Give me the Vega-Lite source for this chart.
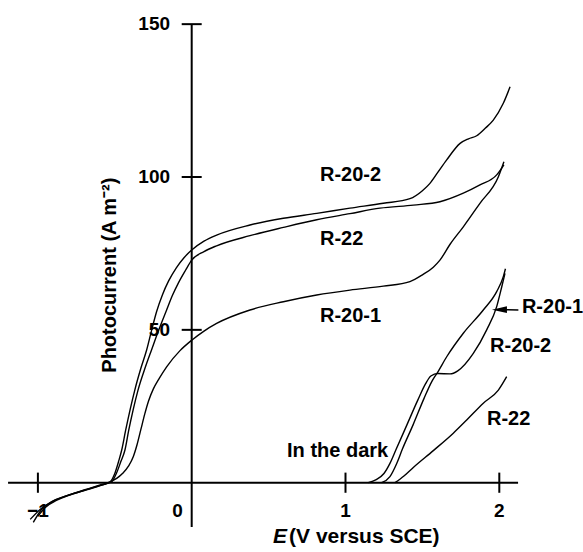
{
  "$schema": "https://vega.github.io/schema/vega-lite/v6.json",
  "width": 583,
  "height": 552,
  "padding": 0,
  "autosize": "none",
  "background": "white",
  "config": {"view": {"stroke": null}},
  "datasets": {
    "curves": [
      {"s":"R-20-2 light","x":-1.03,"y":-13},{"s":"R-20-2 light","x":-0.98,"y":-9},{"s":"R-20-2 light","x":-0.92,"y":-6.5},{"s":"R-20-2 light","x":-0.81,"y":-4.2},{"s":"R-20-2 light","x":-0.7,"y":-2.6},{"s":"R-20-2 light","x":-0.6,"y":-1.0},{"s":"R-20-2 light","x":-0.53,"y":0.3},{"s":"R-20-2 light","x":-0.5,"y":3},{"s":"R-20-2 light","x":-0.475,"y":7},{"s":"R-20-2 light","x":-0.455,"y":10.7},{"s":"R-20-2 light","x":-0.43,"y":17},{"s":"R-20-2 light","x":-0.4,"y":24},{"s":"R-20-2 light","x":-0.37,"y":30.3},{"s":"R-20-2 light","x":-0.33,"y":37.5},{"s":"R-20-2 light","x":-0.293,"y":43.4},{"s":"R-20-2 light","x":-0.26,"y":50},{"s":"R-20-2 light","x":-0.228,"y":56},{"s":"R-20-2 light","x":-0.19,"y":61.5},{"s":"R-20-2 light","x":-0.15,"y":66},{"s":"R-20-2 light","x":-0.1,"y":70.3},{"s":"R-20-2 light","x":-0.05,"y":73.6},{"s":"R-20-2 light","x":0.0,"y":76.1},{"s":"R-20-2 light","x":0.08,"y":79},{"s":"R-20-2 light","x":0.162,"y":81.0},{"s":"R-20-2 light","x":0.379,"y":84.3},{"s":"R-20-2 light","x":0.596,"y":86.5},{"s":"R-20-2 light","x":0.813,"y":88.1},{"s":"R-20-2 light","x":1.029,"y":89.8},{"s":"R-20-2 light","x":1.246,"y":91.4},{"s":"R-20-2 light","x":1.419,"y":92.9},{"s":"R-20-2 light","x":1.5,"y":95.5},{"s":"R-20-2 light","x":1.549,"y":97.9},{"s":"R-20-2 light","x":1.6,"y":101.5},{"s":"R-20-2 light","x":1.658,"y":105.6},{"s":"R-20-2 light","x":1.745,"y":111.0},{"s":"R-20-2 light","x":1.8,"y":112.5},{"s":"R-20-2 light","x":1.853,"y":113.5},{"s":"R-20-2 light","x":1.91,"y":116},{"s":"R-20-2 light","x":1.961,"y":118.6},{"s":"R-20-2 light","x":2.026,"y":124.1},{"s":"R-20-2 light","x":2.07,"y":129.5},
      {"s":"R-22 light","x":-1.0,"y":-11},{"s":"R-22 light","x":-0.95,"y":-8},{"s":"R-22 light","x":-0.88,"y":-5.8},{"s":"R-22 light","x":-0.78,"y":-3.8},{"s":"R-22 light","x":-0.68,"y":-2.2},{"s":"R-22 light","x":-0.58,"y":-0.7},{"s":"R-22 light","x":-0.52,"y":0.3},{"s":"R-22 light","x":-0.49,"y":3},{"s":"R-22 light","x":-0.46,"y":7},{"s":"R-22 light","x":-0.434,"y":10.7},{"s":"R-22 light","x":-0.41,"y":17},{"s":"R-22 light","x":-0.38,"y":24},{"s":"R-22 light","x":-0.349,"y":30.3},{"s":"R-22 light","x":-0.3,"y":38},{"s":"R-22 light","x":-0.26,"y":43.6},{"s":"R-22 light","x":-0.21,"y":50.5},{"s":"R-22 light","x":-0.163,"y":56.5},{"s":"R-22 light","x":-0.125,"y":61.3},{"s":"R-22 light","x":-0.087,"y":65.3},{"s":"R-22 light","x":-0.04,"y":69.5},{"s":"R-22 light","x":0.0,"y":72.8},{"s":"R-22 light","x":0.08,"y":75.6},{"s":"R-22 light","x":0.162,"y":77.5},{"s":"R-22 light","x":0.379,"y":80.8},{"s":"R-22 light","x":0.596,"y":83.5},{"s":"R-22 light","x":0.813,"y":86.0},{"s":"R-22 light","x":1.029,"y":88.0},{"s":"R-22 light","x":1.224,"y":89.8},{"s":"R-22 light","x":1.441,"y":90.8},{"s":"R-22 light","x":1.614,"y":91.9},{"s":"R-22 light","x":1.766,"y":94.7},{"s":"R-22 light","x":1.874,"y":97.4},{"s":"R-22 light","x":1.983,"y":100.7},{"s":"R-22 light","x":2.03,"y":104},
      {"s":"R-20-1 light","x":-1.05,"y":-12},{"s":"R-20-1 light","x":-0.98,"y":-8.5},{"s":"R-20-1 light","x":-0.9,"y":-6},{"s":"R-20-1 light","x":-0.8,"y":-4},{"s":"R-20-1 light","x":-0.7,"y":-2.4},{"s":"R-20-1 light","x":-0.6,"y":-0.8},{"s":"R-20-1 light","x":-0.53,"y":0.3},{"s":"R-20-1 light","x":-0.488,"y":1.4},{"s":"R-20-1 light","x":-0.45,"y":3},{"s":"R-20-1 light","x":-0.41,"y":5.5},{"s":"R-20-1 light","x":-0.38,"y":8.5},{"s":"R-20-1 light","x":-0.355,"y":12.5},{"s":"R-20-1 light","x":-0.33,"y":17.5},{"s":"R-20-1 light","x":-0.305,"y":22.5},{"s":"R-20-1 light","x":-0.28,"y":26.8},{"s":"R-20-1 light","x":-0.25,"y":30.6},{"s":"R-20-1 light","x":-0.21,"y":34.2},{"s":"R-20-1 light","x":-0.163,"y":37.9},{"s":"R-20-1 light","x":-0.076,"y":43.2},{"s":"R-20-1 light","x":0.0,"y":46.6},{"s":"R-20-1 light","x":0.08,"y":49.6},{"s":"R-20-1 light","x":0.162,"y":52.1},{"s":"R-20-1 light","x":0.379,"y":56.5},{"s":"R-20-1 light","x":0.596,"y":59.2},{"s":"R-20-1 light","x":0.813,"y":61.4},{"s":"R-20-1 light","x":1.029,"y":63.0},{"s":"R-20-1 light","x":1.246,"y":64.3},{"s":"R-20-1 light","x":1.419,"y":65.8},{"s":"R-20-1 light","x":1.5,"y":68},{"s":"R-20-1 light","x":1.571,"y":70.5},{"s":"R-20-1 light","x":1.614,"y":72.8},{"s":"R-20-1 light","x":1.68,"y":78},{"s":"R-20-1 light","x":1.766,"y":83.7},{"s":"R-20-1 light","x":1.874,"y":91.4},{"s":"R-20-1 light","x":1.994,"y":100.1},{"s":"R-20-1 light","x":2.03,"y":105},
      {"s":"R-20-2 dark","x":1.148,"y":0},{"s":"R-20-2 dark","x":1.2,"y":1},{"s":"R-20-2 dark","x":1.25,"y":3},{"s":"R-20-2 dark","x":1.289,"y":6.3},{"s":"R-20-2 dark","x":1.33,"y":11},{"s":"R-20-2 dark","x":1.4,"y":19},{"s":"R-20-2 dark","x":1.47,"y":27},{"s":"R-20-2 dark","x":1.52,"y":32.3},{"s":"R-20-2 dark","x":1.555,"y":34.9},{"s":"R-20-2 dark","x":1.6,"y":35.7},{"s":"R-20-2 dark","x":1.68,"y":35.6},{"s":"R-20-2 dark","x":1.73,"y":36.6},{"s":"R-20-2 dark","x":1.831,"y":42.3},{"s":"R-20-2 dark","x":1.918,"y":50},{"s":"R-20-2 dark","x":1.983,"y":57.6},{"s":"R-20-2 dark","x":2.016,"y":64.1},{"s":"R-20-2 dark","x":2.037,"y":68.5},
      {"s":"R-20-1 dark","x":1.235,"y":0},{"s":"R-20-1 dark","x":1.289,"y":2},{"s":"R-20-1 dark","x":1.333,"y":6.3},{"s":"R-20-1 dark","x":1.37,"y":11},{"s":"R-20-1 dark","x":1.44,"y":19},{"s":"R-20-1 dark","x":1.51,"y":27.5},{"s":"R-20-1 dark","x":1.56,"y":33},{"s":"R-20-1 dark","x":1.6,"y":36.2},{"s":"R-20-1 dark","x":1.658,"y":41.2},{"s":"R-20-1 dark","x":1.766,"y":48.9},{"s":"R-20-1 dark","x":1.896,"y":56.5},{"s":"R-20-1 dark","x":1.983,"y":62.5},{"s":"R-20-1 dark","x":2.026,"y":67.4},{"s":"R-20-1 dark","x":2.04,"y":70},
      {"s":"R-22 dark","x":1.322,"y":0},{"s":"R-22 dark","x":1.38,"y":2.2},{"s":"R-22 dark","x":1.441,"y":5.0},{"s":"R-22 dark","x":1.571,"y":10.5},{"s":"R-22 dark","x":1.701,"y":16.2},{"s":"R-22 dark","x":1.788,"y":20.5},{"s":"R-22 dark","x":1.896,"y":26.0},{"s":"R-22 dark","x":1.994,"y":30.3},{"s":"R-22 dark","x":2.048,"y":34.7}
    ],
    "axes": [
      {"x1":-1.194,"y1":0,"x2":2.122,"y2":0},
      {"x1":0,"y1":-14.5,"x2":0,"y2":150}
    ],
    "xticks": [{"v":-1},{"v":1},{"v":2}],
    "yticks": [{"v":50},{"v":100},{"v":150}],
    "ylabels": [{"t":"150","v":150},{"t":"100","v":100},{"t":"50","v":50}],
    "xlabels": [{"t":"\u22121","v":-1},{"t":"1","v":1},{"t":"2","v":2}],
    "zerolabel": [{"t":"0","x":-0.057,"y":-9.4}],
    "notes": [
      {"t":"R-20-2","x":0.834,"y":100.7},
      {"t":"R-22","x":0.834,"y":79.7},
      {"t":"R-20-1","x":0.834,"y":54.5},
      {"t":"R-20-1","x":2.147,"y":57.5},
      {"t":"R-20-2","x":1.94,"y":44.7},
      {"t":"R-22","x":1.92,"y":20.8},
      {"t":"In the dark","x":0.62,"y":10.4}
    ],
    "arrow": [{"x1":2.124,"y1":56.5,"x2":2.03,"y2":56.6}],
    "arrowhead": [{"x":2.001,"y":56.6}]
  },
  "layer": [
    {
      "data": {"name": "axes"},
      "mark": {"type": "rule", "color": "black", "strokeWidth": 2},
      "encoding": {
        "x": {"field": "x1", "type": "quantitative", "scale": {"domain": [-1.2464, 2.5442], "nice": false, "zero": false}, "axis": null},
        "y": {"field": "y1", "type": "quantitative", "scale": {"domain": [-22.67, 157.9], "nice": false, "zero": false}, "axis": null},
        "x2": {"field": "x2"},
        "y2": {"field": "y2"}
      }
    },
    {
      "data": {"name": "xticks"},
      "mark": {"type": "rule", "color": "black", "strokeWidth": 2},
      "encoding": {
        "x": {"field": "v", "type": "quantitative"},
        "y": {"datum": -3.3, "type": "quantitative"},
        "y2": {"datum": 3.3}
      }
    },
    {
      "data": {"name": "yticks"},
      "mark": {"type": "rule", "color": "black", "strokeWidth": 2},
      "encoding": {
        "y": {"field": "v", "type": "quantitative"},
        "x": {"datum": -0.065, "type": "quantitative"},
        "x2": {"datum": 0.065}
      }
    },
    {
      "data": {"name": "curves"},
      "mark": {"type": "line", "color": "black", "strokeWidth": 1.4, "interpolate": "monotone"},
      "encoding": {
        "x": {"field": "x", "type": "quantitative"},
        "y": {"field": "y", "type": "quantitative"},
        "detail": {"field": "s", "type": "nominal"}
      }
    },
    {
      "data": {"name": "ylabels"},
      "mark": {"type": "text", "align": "right", "baseline": "middle", "font": "Liberation Sans", "fontSize": 19, "fontWeight": "bold", "color": "black"},
      "encoding": {
        "x": {"datum": -0.141, "type": "quantitative"},
        "y": {"field": "v", "type": "quantitative"},
        "text": {"field": "t"}
      }
    },
    {
      "data": {"name": "xlabels"},
      "mark": {"type": "text", "align": "center", "baseline": "middle", "font": "Liberation Sans", "fontSize": 19, "fontWeight": "bold", "color": "black"},
      "encoding": {
        "x": {"field": "v", "type": "quantitative"},
        "y": {"datum": -9.2, "type": "quantitative"},
        "text": {"field": "t"}
      }
    },
    {
      "data": {"name": "zerolabel"},
      "mark": {"type": "text", "align": "right", "baseline": "middle", "font": "Liberation Sans", "fontSize": 19, "fontWeight": "bold", "color": "black"},
      "encoding": {
        "x": {"field": "x", "type": "quantitative"},
        "y": {"field": "y", "type": "quantitative"},
        "text": {"field": "t"}
      }
    },
    {
      "data": {"name": "notes"},
      "mark": {"type": "text", "align": "left", "baseline": "middle", "font": "Liberation Sans", "fontSize": 20, "fontWeight": "bold", "color": "black"},
      "encoding": {
        "x": {"field": "x", "type": "quantitative"},
        "y": {"field": "y", "type": "quantitative"},
        "text": {"field": "t"}
      }
    },
    {
      "data": {"name": "arrow"},
      "mark": {"type": "rule", "color": "black", "strokeWidth": 1.5},
      "encoding": {
        "x": {"field": "x1", "type": "quantitative"},
        "y": {"field": "y1", "type": "quantitative"},
        "x2": {"field": "x2"},
        "y2": {"field": "y2"}
      }
    },
    {
      "data": {"name": "arrowhead"},
      "mark": {"type": "point", "shape": "M-1,0L1,-0.45L1,0.45Z", "filled": true, "color": "black", "opacity": 1, "size": 225},
      "encoding": {
        "x": {"field": "x", "type": "quantitative"},
        "y": {"field": "y", "type": "quantitative"}
      }
    },
    {
      "data": {"values": [{"t": "Photocurrent (A m\u207b\u00b2)"}]},
      "mark": {"type": "text", "align": "center", "baseline": "middle", "angle": 270, "font": "Liberation Sans", "fontSize": 20, "fontWeight": "bold", "color": "black"},
      "encoding": {
        "x": {"datum": -0.531, "type": "quantitative"},
        "y": {"datum": 67.9, "type": "quantitative"},
        "text": {"field": "t"}
      }
    },
    {
      "data": {"values": [{"t": "E"}]},
      "mark": {"type": "text", "align": "left", "baseline": "middle", "font": "Liberation Sans", "fontSize": 21, "fontWeight": "bold", "fontStyle": "italic", "color": "black"},
      "encoding": {
        "x": {"datum": 0.528, "type": "quantitative"},
        "y": {"datum": -17.8, "type": "quantitative"},
        "text": {"field": "t"}
      }
    },
    {
      "data": {"values": [{"t": "(V versus SCE)"}]},
      "mark": {"type": "text", "align": "left", "baseline": "middle", "font": "Liberation Sans", "fontSize": 21, "fontWeight": "bold", "color": "black"},
      "encoding": {
        "x": {"datum": 0.633, "type": "quantitative"},
        "y": {"datum": -17.8, "type": "quantitative"},
        "text": {"field": "t"}
      }
    }
  ]
}
